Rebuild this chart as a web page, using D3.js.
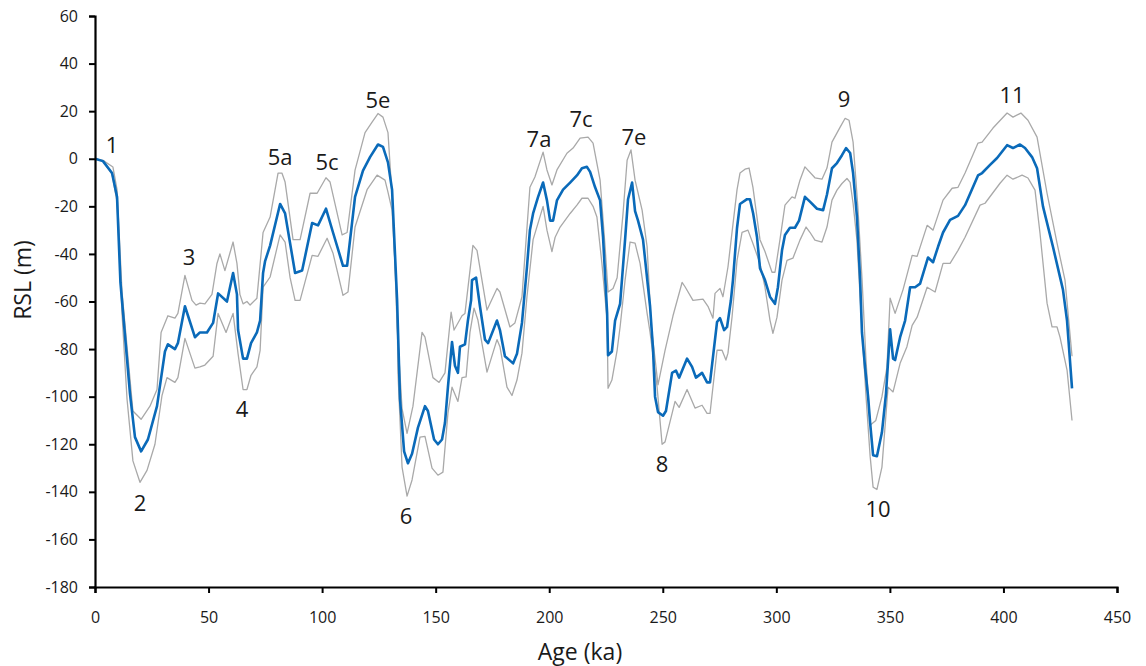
<!DOCTYPE html>
<html>
<head>
<meta charset="utf-8">
<script src="https://cdn.jsdelivr.net/npm/d3@7"></script>
<style>
  html, body { margin: 0; padding: 0; background: #fff; }
  svg { display: block; font-family: "Open Sans", "Noto Sans", sans-serif; }
</style>
</head>
<body>
<svg id="chart" width="1146" height="666"></svg>
<script>
// Relative sea level reconstruction: mean curve [age ka, RSL m]
const meanCurve = [
  [0,0],[3.5,-1],[7.5,-6],[9.7,-16],[11.2,-52],[15.4,-98.7],[17.6,-117],[20.3,-123],
  [23.3,-118],[27.3,-104],[30.8,-81],[32.1,-78],[35.2,-80],[36.5,-77.5],[39.6,-62],
  [44.0,-75],[46.2,-73],[49.3,-73],[52.0,-69],[54.2,-56.6],[58.1,-60],[60.8,-48],
  [62.5,-57],[63.0,-72],[65.2,-84],[66.9,-84],[68.7,-77.5],[71.3,-73],[72.7,-68],
  [74.0,-48],[74.9,-43],[77.1,-36.5],[81.5,-19],[83.7,-23],[88.1,-48],[91.2,-47],
  [95.6,-27],[98.2,-28],[101.7,-21],[104.8,-31],[109.2,-45],[111.0,-45],[114.5,-16],
  [118.0,-5],[121.1,0.7],[124.6,6],[126.8,5],[129.0,-1.5],[130.8,-13],[133.0,-59],
  [134.3,-101],[136.1,-123],[137.8,-128],[139.6,-124],[142.2,-113],[145.3,-104],
  [146.6,-106],[149.3,-118],[151.0,-120],[152.8,-118],[154.1,-111],[155.4,-96],
  [157.2,-77],[158.5,-87],[159.8,-90],[160.7,-79],[162.9,-78],[164.2,-68],[165.6,-59.5],
  [166.0,-51],[167.8,-50],[169.5,-62],[171.7,-76],[173.1,-77.5],[177.0,-68],[178.3,-72],
  [180.5,-83],[184.1,-86],[185.8,-82],[188.0,-69],[190.2,-45.5],[191.5,-30],[192.9,-23],
  [195.1,-16],[197.3,-10],[199.0,-17.5],[200.4,-26],[201.7,-26],[203.4,-17.5],
  [206.1,-13],[209.2,-10],[212.2,-7],[214.4,-4],[216.6,-3.4],[218.0,-5.5],[220.2,-12],
  [222.4,-17.5],[223.7,-33],[225.5,-65],[225.9,-82.6],[227.6,-81],[229.0,-68],
  [231.2,-61],[233.4,-34],[234.7,-17],[236.5,-10],[237.8,-22],[239.1,-26],[241.3,-34],
  [244.4,-62],[245.7,-80],[246.6,-100],[247.9,-106.5],[250.1,-108],[251.4,-106],
  [254.1,-90],[255.8,-89],[257.2,-92],[260.7,-84],[262.9,-87.5],[264.6,-92],[267.3,-90],
  [269.5,-94],[270.8,-94],[273.9,-68.6],[275.2,-67],[277.0,-72],[278.3,-70.7],
  [280.0,-59.5],[280.9,-51],[282.7,-29],[284.0,-19],[287.1,-17],[288.4,-17],
  [289.8,-23],[291.5,-33],[292.8,-46],[295.0,-51],[297.2,-58],[299.4,-61],[300.7,-54],
  [302.5,-38.5],[303.8,-32],[306.0,-29],[308.2,-29],[310.0,-26],[312.6,-16],[314.8,-18],
  [317.9,-21],[320.6,-21.6],[322.3,-15],[324.5,-4],[326.7,-1.8],[328.9,1.5],[330.7,4.5],
  [332.5,2.4],[333.8,-6],[335.5,-24.5],[336.9,-51],[337.7,-73],[339.1,-88],[340.4,-100],
  [341.3,-111],[342.6,-124.6],[344.3,-125],[346.5,-115],[348.3,-98.6],[350.1,-71.7],
  [351.4,-84],[352.3,-84.6],[354.5,-75],[356.7,-68],[358.9,-54],[361.1,-54],[363.3,-52.5],
  [366.8,-41.5],[369.0,-43.5],[371.2,-37],[373.4,-31],[376.5,-25.7],[380.0,-24],
  [383.1,-19.5],[388.8,-7],[390.6,-6],[394.1,-2.6],[397.2,0.3],[401.6,5.7],[404.2,4.5],
  [407.3,6],[409.5,4.5],[412.6,0.7],[414.8,-4],[417.4,-20],[421.8,-37],[426.2,-55],
  [428.0,-68],[430.2,-96.5]
];

// Upper uncertainty bound [age ka, RSL m]
const upperBound = [
  [0,0],[3.5,-0.7],[7.9,-3.5],[9.7,-13],[11.9,-56],[16.7,-106],[20.3,-109.5],[24.2,-104],
  [27.3,-97],[29.1,-73],[32.1,-66],[35.2,-67],[36.5,-65],[39.6,-49],[42.7,-59.5],
  [44.5,-61.5],[46.2,-60.7],[48.4,-61],[51.5,-57],[53.7,-44],[55.0,-40],[57.2,-47],
  [60.8,-35],[62.5,-44],[63.8,-57],[65.2,-61],[66.9,-60],[68.3,-61.5],[71.3,-58.6],
  [74.0,-31],[77.1,-24.5],[80.6,-6],[82.3,-6],[83.7,-9.8],[87.2,-34],[90.3,-34],
  [94.7,-14.5],[97.8,-14.5],[101.7,-8],[103.5,-9.8],[108.8,-32],[111.0,-31],[114.5,-4.8],
  [118.9,11],[122.0,15.4],[124.6,19],[126.8,17.5],[129.0,11],[131.2,-21.6],[133.0,-70],
  [135.2,-105],[137.4,-115.4],[140.0,-104],[144.0,-73],[145.3,-75],[148.8,-92],
  [151.5,-94],[154.1,-90],[156.8,-64.5],[158.1,-72],[161.6,-66],[162.9,-65],[166.4,-36.4],
  [168.2,-38.5],[172.6,-63.6],[177.0,-54.5],[178.3,-56],[182.7,-70.7],[184.9,-69],
  [188.0,-58],[191.5,-12],[193.7,-7.7],[197.3,2.8],[199.0,-4.7],[201.2,-11],[203.4,-4.7],
  [207.8,2.3],[210.5,4.5],[213.6,8.7],[217.1,9.1],[219.3,6.6],[222.4,-9],[224.6,-37],
  [225.9,-56],[228.1,-54.5],[229.9,-50],[232.5,-23],[234.3,-0.6],[236.0,3.7],[237.8,-9],
  [240.9,-21.6],[243.1,-37],[244.9,-70],[247.9,-95],[251.0,-80.5],[254.5,-66],[258.5,-52],
  [259.8,-53.8],[263.3,-59.5],[267.7,-59],[269.9,-62],[272.1,-67],[273.0,-56.6],
  [275.2,-54.5],[276.5,-58],[278.7,-45.5],[282.7,-13],[284.0,-6],[286.2,-4.4],[288.0,-3.9],
  [289.7,-12],[292.8,-34],[295.0,-39],[298.1,-47.7],[299.4,-47.7],[301.6,-34],[303.8,-19.5],
  [306.9,-16],[308.2,-16.6],[310.4,-9],[312.6,-3.4],[317.0,-8],[320.1,-8.6],[322.3,-3.9],
  [324.5,7],[328.1,13.3],[330.3,17],[332.0,16.2],[333.8,7],[335.9,-20.3],[337.7,-50],
  [339.5,-85],[341.3,-112],[343.8,-110],[346.5,-100],[348.7,-87.7],[350.1,-58.6],
  [352.3,-65],[355.8,-55],[359.8,-40.6],[362.0,-41],[366.4,-28],[369.0,-30],[373.4,-17.4],
  [377.4,-12.4],[380.0,-12],[383.1,-6],[388.8,6.6],[390.6,7],[395.4,12.9],[401.6,19.2],
  [404.2,17.5],[407.7,19.2],[410.8,16.2],[414.8,9.1],[419.2,-14.5],[423.6,-35.5],
  [427.1,-51],[430.2,-83]
];

// Lower uncertainty bound [age ka, RSL m]
const lowerBound = [
  [0,0],[3.5,-1],[7.5,-6.5],[9.7,-18],[11.9,-65],[14.1,-101],[16.7,-127],[19.8,-136],
  [22.9,-131],[26.4,-120],[29.5,-99.5],[31.7,-92],[35.2,-94],[36.5,-92],[39.6,-75.5],
  [44.0,-88],[46.2,-87.5],[48.4,-86.7],[52.0,-83],[54.2,-65],[57.7,-73],[60.8,-65],
  [63.0,-82],[65.2,-97],[66.9,-97],[68.7,-91],[71.3,-87.5],[72.7,-80.5],[74.0,-54],
  [77.1,-49.7],[81.5,-32],[83.7,-35],[85.9,-50],[88.1,-59.5],[90.3,-59.5],[95.6,-40.6],
  [98.2,-41],[102.2,-33.4],[104.8,-39.7],[109.2,-57.4],[111.4,-56],[114.5,-28.7],
  [119.8,-13],[124.2,-6.9],[127.7,-9],[129.0,-14],[130.8,-21.6],[133.0,-60],[133.4,-90],
  [135.2,-129.6],[137.4,-141.8],[139.6,-135],[143.1,-117],[145.3,-116.7],[148.4,-130],
  [151.0,-133],[153.2,-131.7],[155.4,-107],[157.2,-96],[159.8,-102],[161.6,-92],
  [163.4,-91.7],[165.1,-73],[166.9,-62.8],[168.6,-67.8],[172.6,-89.7],[177.0,-76],
  [178.3,-79],[181.4,-96],[183.6,-99.5],[185.8,-93],[188.0,-81.7],[190.2,-58],[192.9,-34],
  [197.3,-20],[199.0,-30],[201.2,-39],[202.6,-33],[204.8,-28.7],[209.2,-23],[212.2,-19.5],
  [214.4,-16.6],[217.1,-16.6],[219.3,-20],[221.0,-24.5],[223.2,-44],[225.5,-68],
  [225.9,-96.5],[227.6,-93],[229.9,-80.5],[231.2,-70.7],[233.4,-51],[235.6,-35],
  [237.8,-35.5],[240.0,-44],[243.1,-65],[244.4,-73],[247.5,-96],[249.7,-120],[251.0,-119],
  [254.1,-107],[255.4,-102],[257.2,-104.5],[260.7,-97],[264.2,-104.8],[267.3,-103.6],
  [269.5,-107],[270.8,-107],[273.9,-80.5],[276.1,-80.5],[277.8,-84.6],[278.7,-81.7],
  [280.5,-66.5],[282.7,-42.7],[284.9,-30.9],[287.5,-30],[289.7,-35.6],[292.8,-44],
  [295.0,-54],[297.2,-67.8],[298.5,-73.4],[300.3,-66.6],[302.5,-51],[304.7,-42.7],
  [307.3,-41.8],[310.4,-34.2],[313.1,-28.7],[314.8,-30.9],[317.0,-34.2],[320.1,-35],
  [322.3,-28.7],[324.5,-17.4],[326.7,-13.2],[328.9,-10.4],[331.1,-8.3],[332.5,-9.9],
  [333.8,-18.8],[335.5,-34.3],[337.3,-65],[339.5,-100],[341.3,-125],[342.6,-138],
  [344.3,-139],[346.5,-129.6],[349.2,-96],[351.4,-98],[354.5,-86],[357.5,-79],[359.8,-70],
  [362.0,-66.6],[366.4,-54],[369.9,-56],[373.4,-44],[376.5,-44],[380.0,-38.5],[383.1,-33],
  [389.7,-19.5],[391.9,-18.7],[398.5,-10.3],[401.6,-6.9],[404.2,-8.6],[408.2,-6.9],
  [410.8,-8.1],[413.9,-13.2],[416.1,-31.3],[419.2,-60.7],[421.4,-70.7],[423.6,-70.7],
  [424.9,-75],[428.0,-88.8],[430.2,-110]
];

// Marine isotope stage labels: [text, age ka, RSL m at text baseline]
const stageLabels = ["1","2","3","4","5a","5c","5e","6","7a","7c","7e","8","9","10","11"];
const stageAges   = [7.5, 19.8, 41.4, 64.7, 81.5, 102.2, 124.6, 137, 195.5, 214, 237.3, 249.7, 329.8, 344.8, 403.8];
const stageRSL    = [2.3, -148, -44.7, -108.6, -2.6, -4.7, 21.3, -153.6, 4.9, 13.3, 5.8, -131.7, 21.7, -150.6, 23.4];

// Axis ticks
const xTicks = [0, 50, 100, 150, 200, 250, 300, 350, 400, 450];
const yTicks = [60, 40, 20, 0, -20, -40, -60, -80, -100, -120, -140, -160, -180];

const margin = { left: 95, top: 16, right: 29, bottom: 79 };
const W = 1146, H = 666;
const innerW = W - margin.left - margin.right;
const innerH = H - margin.top - margin.bottom;

const svg = d3.select("#chart");
const g = svg.append("g").attr("transform", `translate(${margin.left},${margin.top})`);

const x = d3.scaleLinear().domain([0, 450]).range([0, innerW]);
const y = d3.scaleLinear().domain([-180, 60]).range([innerH, 0]);

const line = d3.line().x(d => x(d[0])).y(d => y(d[1]));

// Uncertainty envelope
g.append("path").datum(upperBound).attr("d", line)
  .attr("fill", "none").attr("stroke", "#a9a9a9").attr("stroke-width", 1.3).attr("stroke-linejoin", "round");
g.append("path").datum(lowerBound).attr("d", line)
  .attr("fill", "none").attr("stroke", "#a9a9a9").attr("stroke-width", 1.3).attr("stroke-linejoin", "round");

// Mean curve
g.append("path").datum(meanCurve).attr("d", line)
  .attr("fill", "none").attr("stroke", "#0a6ab9").attr("stroke-width", 2.6).attr("stroke-linejoin", "round");

// Axes
const xAxis = g.append("g").attr("transform", `translate(0,${innerH})`)
  .call(d3.axisBottom(x).tickValues(xTicks).tickFormat(d => String(d)).tickSizeOuter(0).tickSize(6).tickPadding(19));
const yAxis = g.append("g")
  .call(d3.axisLeft(y).tickValues(yTicks).tickFormat(d => String(d)).tickSizeOuter(0).tickSize(6).tickPadding(11));

[xAxis, yAxis].forEach(a => {
  a.select(".domain").attr("stroke", "#000").attr("stroke-width", 2.2);
  a.selectAll(".tick line").attr("stroke", "#000").attr("stroke-width", 2);
  a.selectAll(".tick text").attr("fill", "#1a1a1a").style("font-size", "16px")
    .style("font-family", "'Open Sans', 'Noto Sans', sans-serif");
});

// Stage labels
g.selectAll("text.stage").data(stageLabels).enter().append("text")
  .attr("class", "stage")
  .attr("x", (d, i) => x(stageAges[i]))
  .attr("y", (d, i) => y(stageRSL[i]))
  .attr("text-anchor", "middle")
  .attr("fill", "#1a1a1a")
  .style("font-size", "22px")
  .text(d => d);

// Axis titles
svg.append("text")
  .attr("x", 580)
  .attr("y", 660)
  .attr("text-anchor", "middle")
  .attr("fill", "#1a1a1a")
  .style("font-size", "23px")
  .text("Age (ka)");

svg.append("text")
  .attr("transform", "translate(31,280) rotate(-90)")
  .attr("text-anchor", "middle")
  .attr("fill", "#1a1a1a")
  .style("font-size", "23px")
  .text("RSL (m)");
</script>
</body>
</html>
